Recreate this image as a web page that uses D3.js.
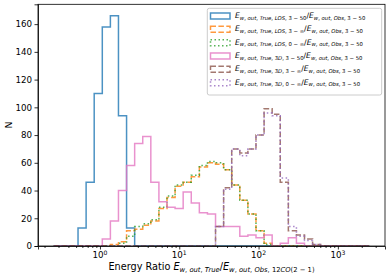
<!DOCTYPE html>
<html>
<head>
<meta charset="utf-8">
<script src="https://cdn.jsdelivr.net/npm/d3@7"></script>
<style>
  body { margin: 0; background: #fff; }
  svg { display: block; }
  text { font-family: "DejaVu Sans", sans-serif; fill: #000; }
</style>
</head>
<body>
<div id="chart"></div>
<script>
// log-spaced bin edges (39 bins)
const binEdges = [0.2615, 0.3306, 0.4182, 0.5289, 0.6689, 0.8459, 1.070, 1.353, 1.711, 2.165,
  2.738, 3.462, 4.378, 5.538, 7.003, 8.857, 11.20, 14.17, 17.92, 22.67,
  28.67, 36.26, 45.86, 58.00, 73.36, 92.79, 117.4, 148.4, 187.7, 237.4,
  300.2, 379.7, 480.3, 607.4, 768.3, 971.4, 1229, 1554, 1966, 2486];

// counts per bin
const losCore  = [0,0,0,13,46,110,158,166,94,13, 0,0,0,0,0,0,0,0,0,0, 0,0,0,0,0,0,0,0,0,0, 0,0,0,0,0,0,0,0,0];
const losHot   = [0,0,0,0,0,0,0,1,3,11, 12,15,18,27,35,43,46,50,57,60, 59,55,44,33,23,11,2,0,0,0, 0,0,0,0,0,0,0,0,0];
const losAll   = [0,0,0,0,0,0,0,0,2,7, 14,16,19,28,36,44,46,51,58,61, 60,55,44,33,23,11,1,0,0,0, 0,0,0,0,0,0,0,0,0];
const core3d   = [0,0,0,0,0,0,5,18,40,58, 74,79,46,32,28,27,39,31,24,23, 14,14,14,7,8,6,8,0,2,6, 2,0,0,0,0,0,0,0,0];
const hot3d    = [0,0,0,0,0,0,0,0,0,0, 0,0,0,0,0,0,0,0,0,0, 14,42,70,67,70,80,99,95,46,11, 8,5,1,0,0,0,0,0,0];
const all3d    = [0,0,0,0,0,0,0,0,0,0, 0,0,0,0,0,0,0,0,0,0, 14,41,70,65,70,80,96,94,49,14, 7,4,1,0,0,0,0,0,0];

const yTicks = [0, 20, 40, 60, 80, 100, 120, 140, 160];
const xTicks = [1, 10, 100, 1000];

// legend label pieces: [subscript of numerator, subscript of denominator]
const labelSubs = [
  ["w, out, True, LOS, 3 \u2212 50", "w, out, Obs, 3 \u2212 50"],
  ["w, out, True, LOS, 3 \u2212 \u221e", "w, out, Obs, 3 \u2212 50"],
  ["w, out, True, LOS, 0 \u2212 \u221e", "w, out, Obs, 3 \u2212 50"],
  ["w, out, True, 3D, 3 \u2212 50", "w, out, Obs, 3 \u2212 50"],
  ["w, out, True, 3D, 3 \u2212 \u221e", "w, out, Obs, 3 \u2212 50"],
  ["w, out, True, 3D, 0 \u2212 \u221e", "w, out, Obs, 3 \u2212 50"]
];

const series = [
  { counts: losCore, color: "#1f77b4", dash: null },
  { counts: losHot,  color: "#ff7f0e", dash: "5.5,2.4" },
  { counts: losAll,  color: "#2ca02c", dash: "1.5,2.5" },
  { counts: core3d,  color: "#e377c2", dash: null },
  { counts: hot3d,   color: "#8c564b", dash: "5.5,2.4" },
  { counts: all3d,   color: "#9467bd", dash: "1.5,2.5" }
];

const width = 390, height = 278;
const margin = { left: 38, right: 5, top: 4.3, bottom: 32 };

const svg = d3.select("#chart").append("svg")
  .attr("width", width)
  .attr("height", height);

// matplotlib-like 5% margin in log space
const lo = Math.log10(binEdges[0]), hi = Math.log10(binEdges[binEdges.length - 1]);
const pad = 0.05 * (hi - lo);
const x = d3.scaleLog()
  .domain([10 ** (lo - pad), 10 ** (hi + pad)])
  .range([margin.left, width - margin.right]);

const yMax = 1.05 * d3.max(series, s => d3.max(s.counts));
const y = d3.scaleLinear()
  .domain([0, yMax])
  .range([height - margin.bottom, margin.top]);

svg.append("clipPath").attr("id", "plot-clip")
  .append("rect")
  .attr("x", margin.left).attr("y", margin.top)
  .attr("width", width - margin.left - margin.right)
  .attr("height", height - margin.top - margin.bottom);

// step outline of a histogram
function stepPoints(counts) {
  let pts = [[binEdges[0], 0]];
  counts.forEach((c, i) => {
    pts.push([binEdges[i], c]);
    pts.push([binEdges[i + 1], c]);
  });
  pts.push([binEdges[binEdges.length - 1], 0]);
  return pts;
}

const line = d3.line().x(d => x(d[0])).y(d => y(d[1]));

let histLayer = svg.append("g").attr("clip-path", "url(#plot-clip)");
series.forEach(s => {
  histLayer.append("path")
    .attr("d", line(stepPoints(s.counts)))
    .attr("fill", "none")
    .attr("stroke", s.color)
    .attr("stroke-opacity", 0.8)
    .attr("stroke-width", 1.5)
    .attr("stroke-linejoin", "miter")
    .attr("stroke-dasharray", s.dash);
});

// mathtext-ish text: letters italic, subscripts smaller and lowered
function mathText(sel, parts, size) {
  let shift = 0;
  parts.forEach(p => {
    const fs = p.sub ? size * 0.7 : size;
    const target = p.sub ? size * 0.22 : 0;
    p.t.split(/([A-Za-z]+)/).filter(s => s.length).forEach(s => {
      const ts = sel.append("tspan").attr("font-size", fs).text(s);
      if (!p.plain && /[A-Za-z]/.test(s)) ts.attr("font-style", "italic");
      if (target !== shift) { ts.attr("dy", target - shift); shift = target; }
    });
  });
}

// axes
svg.append("g")
  .attr("transform", `translate(0,${height - margin.bottom})`)
  .call(d3.axisBottom(x).tickValues(xTicks).tickSize(3.5).tickPadding(3).tickFormat(""));

let minor = [];
[0.1, 1, 10, 100, 1000].forEach(d => {
  for (let m = 2; m < 10; m++) minor.push(d * m);
});
minor = minor.filter(v => v >= x.domain()[0] && v <= x.domain()[1]);
svg.append("g")
  .attr("transform", `translate(0,${height - margin.bottom})`)
  .call(d3.axisBottom(x).tickValues(minor).tickSize(2).tickFormat(""))
  .call(g => g.select(".domain").remove());

xTicks.forEach(v => {
  const t = svg.append("text")
    .attr("x", x(v))
    .attr("y", height - margin.bottom + 12.3)
    .attr("text-anchor", "middle")
    .attr("font-size", 8.7);
  t.append("tspan").text("10");
  t.append("tspan").attr("font-size", 6.1).attr("dy", -3.6).text(Math.round(Math.log10(v)));
});

svg.append("g")
  .attr("transform", `translate(${margin.left},0)`)
  .call(d3.axisLeft(y).tickValues(yTicks).tickSize(3.5).tickPadding(2.5))
  .call(g => g.selectAll("text").attr("font-size", 8.7).attr("font-family", "DejaVu Sans"));

svg.selectAll(".domain").attr("stroke", "#000").attr("stroke-width", 0.8);
svg.selectAll(".tick line").attr("stroke", "#000").attr("stroke-width", 0.8);

// frame
svg.append("rect")
  .attr("x", margin.left).attr("y", margin.top)
  .attr("width", width - margin.left - margin.right)
  .attr("height", height - margin.top - margin.bottom)
  .attr("fill", "none")
  .attr("stroke", "#000")
  .attr("stroke-width", 0.8);

// axis labels
svg.append("text")
  .attr("transform", "translate(12,125) rotate(-90)")
  .attr("text-anchor", "middle")
  .attr("font-size", 9.4)
  .text("N");

const xl = svg.append("text")
  .attr("x", (margin.left + width - margin.right) / 2)
  .attr("y", 270)
  .attr("text-anchor", "middle")
  .attr("font-size", 9.7);
mathText(xl, [
  { t: "Energy Ratio ", plain: true },
  { t: "E" }, { t: "w, out, True", sub: true },
  { t: "/E" }, { t: "w, out, Obs, 12CO(2 \u2212 1)", sub: true }
], 9.7);

// legend
const lg = svg.append("g");
lg.append("rect")
  .attr("x", 207.3).attr("y", 8.3)
  .attr("width", 174.4).attr("height", 86.7)
  .attr("rx", 2)
  .attr("fill", "#fff").attr("fill-opacity", 0.8)
  .attr("stroke", "#cccccc");

series.forEach((s, i) => {
  const cy = 16 + i * 13.33;
  lg.append("rect")
    .attr("x", 210.5).attr("y", cy - 3)
    .attr("width", 19.5).attr("height", 6)
    .attr("fill", "none")
    .attr("stroke", s.color)
    .attr("stroke-opacity", 0.8)
    .attr("stroke-width", 1.5)
    .attr("stroke-dasharray", s.dash);
  const t = lg.append("text")
    .attr("x", 235)
    .attr("y", cy + 2)
    .attr("font-size", 7.6);
  mathText(t, [
    { t: "E" }, { t: labelSubs[i][0], sub: true },
    { t: "/E" }, { t: labelSubs[i][1], sub: true }
  ], 7.6);
});
</script>
</body>
</html>
